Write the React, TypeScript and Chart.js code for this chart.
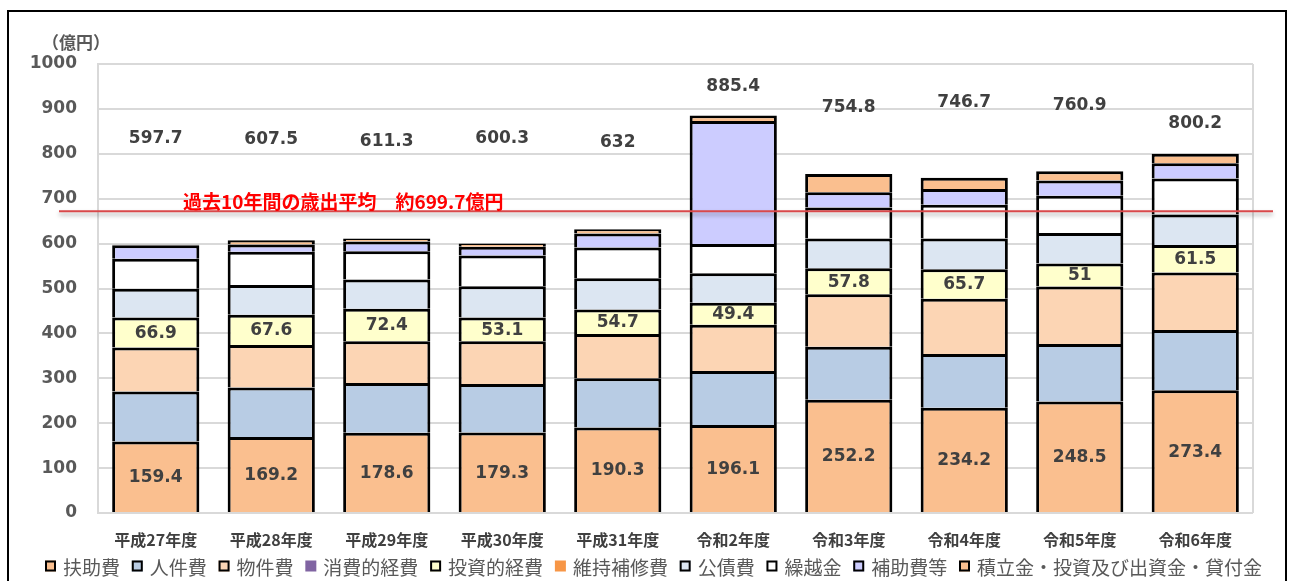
import React, { useEffect, useRef } from "react";
import { Chart, registerables } from "chart.js";

Chart.register(...registerables);

const categories = ["平成27年度", "平成28年度", "平成29年度", "平成30年度", "平成31年度", "令和2年度", "令和3年度", "令和4年度", "令和5年度", "令和6年度"];
const fujohi = [159.4, 169.2, 178.6, 179.3, 190.3, 196.1, 252.2, 234.2, 248.5, 273.4];
const jinkenhi = [111, 110.5, 110.9, 108, 109.6, 120, 118, 120, 128, 134];
const bukkenhi = [98, 94.5, 92.9, 95, 98.9, 103, 117, 123, 128, 128];
const shohitekiKeihi = [0, 0, 0, 0, 0, 0, 0, 0, 0, 0];
const toshitekiKeihi = [66.9, 67.6, 72.4, 53.1, 54.7, 49.4, 57.8, 65.7, 51, 61.5];
const ijiHoshuhi = [0, 0, 0, 0, 0, 0, 0, 0, 0, 0];
const kosaihi = [64, 66, 65, 69.6, 69.5, 65.6, 66.3, 68.7, 68, 68];
const kurikoshikin = [67, 74, 63, 68.6, 68.5, 65, 69, 75, 83, 80];
const hojohiTo = [30, 16, 22, 19.4, 31, 273.8, 34, 35, 34, 34];
const tsumitatekin = [1.4, 9.7, 6.5, 7.3, 9.5, 12.5, 40.5, 25.1, 20.4, 21.3];
const totals = [597.7, 607.5, 611.3, 600.3, 632, 885.4, 754.8, 746.7, 760.9, 800.2];
// axis value at which each total label is centred
const totalLabelLevels = [834, 832, 827, 834, 825, 950, 903, 914, 908, 868];
const averageLineLevel = 672;
const averageText = "過去10年間の歳出平均　約699.7億円";
const unitText = "（億円）";
const yTicks = { min: 0, max: 1000, step: 100 };

const NUM_FONT = '"DejaVu Sans", Verdana, sans-serif';
const JP_FONT = '"Noto Sans CJK JP", "Noto Sans", sans-serif';

const seriesDefs = [
  { label: "扶助費", data: fujohi, color: "#FABF8F", border: 3, showValues: true },
  { label: "人件費", data: jinkenhi, color: "#B8CCE4", border: 3, showValues: false },
  { label: "物件費", data: bukkenhi, color: "#FCD5B4", border: 3, showValues: false },
  { label: "消費的経費", data: shohitekiKeihi, color: "#8064A2", border: 0, showValues: false },
  { label: "投資的経費", data: toshitekiKeihi, color: "#FFFFCC", border: 3, showValues: true },
  { label: "維持補修費", data: ijiHoshuhi, color: "#F79646", border: 0, showValues: false },
  { label: "公債費", data: kosaihi, color: "#DCE6F2", border: 3, showValues: false },
  { label: "繰越金", data: kurikoshikin, color: "#FFFFFF", border: 3, showValues: false },
  { label: "補助費等", data: hojohiTo, color: "#CCCCFF", border: 3, showValues: false },
  { label: "積立金・投資及び出資金・貸付金", data: tsumitatekin, color: "#FABF8F", border: 3, showValues: false },
];

const decorPlugin = {
  id: "decor",
  beforeDatasetsDraw(chart: any) {
    const { ctx, chartArea } = chart;
    ctx.save();
    ctx.strokeStyle = "#D9D9D9";
    ctx.lineWidth = 2;
    ctx.beginPath();
    ctx.moveTo(chartArea.right, chartArea.top);
    ctx.lineTo(chartArea.right, chartArea.bottom);
    ctx.stroke();
    ctx.restore();
  },
  afterDatasetsDraw(chart: any) {
    const { ctx, chartArea } = chart;
    const yScale = chart.scales.y;
    const xScale = chart.scales.x;
    ctx.save();

    // values inside segments
    ctx.font = `bold 17px ${NUM_FONT}`;
    ctx.fillStyle = "#404040";
    ctx.textAlign = "center";
    ctx.textBaseline = "middle";
    seriesDefs.forEach((s, di) => {
      if (!s.showValues) return;
      const meta = chart.getDatasetMeta(di);
      meta.data.forEach((el: any, i: number) => {
        const cy = (el.y + el.base) / 2;
        ctx.fillText(String(s.data[i]), el.x, cy + 1);
      });
    });

    // totals
    totals.forEach((t, i) => {
      const x = xScale.getPixelForValue(i);
      const y = yScale.getPixelForValue(totalLabelLevels[i]);
      ctx.fillText(String(t), x, y);
    });

    // average line
    const ly = yScale.getPixelForValue(averageLineLevel);
    ctx.save();
    ctx.shadowColor = "rgba(0,0,0,0.35)";
    ctx.shadowBlur = 4;
    ctx.shadowOffsetY = 3;
    ctx.strokeStyle = "#D9484A";
    ctx.lineWidth = 2;
    ctx.beginPath();
    ctx.moveTo(chartArea.left - 39, ly);
    ctx.lineTo(chartArea.right + 20, ly);
    ctx.stroke();
    ctx.restore();

    ctx.font = `bold 19px ${JP_FONT}`;
    ctx.fillStyle = "#FF0000";
    ctx.textAlign = "left";
    ctx.textBaseline = "middle";
    ctx.fillText(averageText, chartArea.left + 85, ly - 9);

    // unit label
    ctx.font = `bold 17px ${JP_FONT}`;
    ctx.fillStyle = "#595959";
    ctx.textAlign = "center";
    ctx.fillText(unitText, 76, 43);

    // frame
    ctx.strokeStyle = "#000000";
    ctx.lineWidth = 2;
    ctx.strokeRect(8, 11, 1278, 700);

    // legend
    ctx.font = `19px ${JP_FONT}`;
    const box = 11;
    const gapBoxText = 7;
    const startX = 45;
    const endX = 1262;
    const widths = seriesDefs.map((s) => box + gapBoxText + ctx.measureText(s.label).width);
    const sum = widths.reduce((a, b) => a + b, 0);
    const gap = (endX - startX - sum) / (seriesDefs.length - 1);
    let x = startX;
    const cy = 567;
    ctx.textAlign = "left";
    ctx.textBaseline = "middle";
    seriesDefs.forEach((s, i) => {
      ctx.fillStyle = s.color;
      ctx.fillRect(x, cy - box / 2 - 1, box, box);
      if (s.border > 0) {
        ctx.strokeStyle = "#000000";
        ctx.lineWidth = 2;
        ctx.strokeRect(x + 1, cy - box / 2, box - 2, box - 2);
      }
      ctx.fillStyle = "#595959";
      ctx.fillText(s.label, x + box + gapBoxText, cy + 1);
      x += widths[i] + gap;
    });

    ctx.restore();
  },
};

export default function App() {
  const ref = useRef<HTMLCanvasElement>(null);
  useEffect(() => {
    const canvas = ref.current;
    if (!canvas) return;
    const chart = new Chart(canvas, {
      type: "bar",
      data: {
        labels: categories,
        datasets: seriesDefs.map((s) => ({
          label: s.label,
          data: s.data,
          backgroundColor: s.color,
          borderColor: "#000000",
          borderWidth: s.border,
          categoryPercentage: 0.755,
          barPercentage: 1,
        })),
      },
      options: {
        responsive: false,
        animation: false,
        layout: { padding: { top: 64, right: 37, left: 0, bottom: 0 } },
        plugins: { legend: { display: false }, tooltip: { enabled: false } },
        scales: {
          x: {
            stacked: true,
            grid: { display: false, drawTicks: false },
            border: { display: false },
            ticks: {
              color: "#404040",
              font: { family: JP_FONT, size: 16, weight: "bold" },
              padding: 17,
              maxRotation: 0,
              autoSkip: false,
            },
            afterFit: (s: any) => {
              s.height = 68;
            },
          },
          y: {
            stacked: true,
            min: yTicks.min,
            max: yTicks.max,
            ticks: {
              stepSize: yTicks.step,
              color: "#595959",
              font: { family: NUM_FONT, size: 17, weight: "bold" },
              padding: 21,
              callback: (v: any) => String(v),
            },
            grid: { color: "#D9D9D9", lineWidth: 2, drawTicks: false },
            border: { display: true, color: "#D9D9D9", width: 2 },
            afterFit: (s: any) => {
              s.width = 98;
            },
          },
        },
      },
      plugins: [decorPlugin],
    } as any);
    return () => chart.destroy();
  }, []);
  return (
    <div style={{ position: "fixed", left: 0, top: 0, width: 1290, height: 581, background: "#ffffff" }}>
      <canvas ref={ref} width={1290} height={581} style={{ display: "block" }} />
    </div>
  );
}
